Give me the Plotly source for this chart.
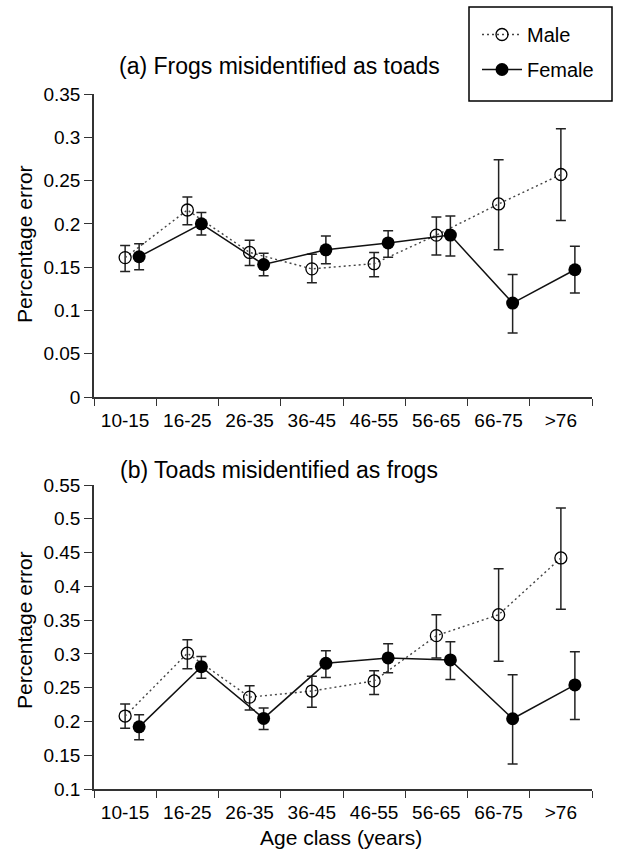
import plotly.graph_objects as go
from plotly.subplots import make_subplots

categories = ["10-15", "16-25", "26-35", "36-45", "46-55", "56-65", "66-75", ">76"]

# (a) Frogs misidentified as toads
a_male = [0.161, 0.216, 0.167, 0.148, 0.154, 0.187, 0.223, 0.257]
a_male_hi = [0.175, 0.231, 0.181, 0.165, 0.167, 0.208, 0.274, 0.310]
a_male_lo = [0.145, 0.199, 0.152, 0.132, 0.139, 0.164, 0.170, 0.204]
a_fem = [0.162, 0.200, 0.153, 0.170, 0.178, 0.187, 0.1085, 0.147]
a_fem_hi = [0.177, 0.213, 0.166, 0.186, 0.192, 0.209, 0.1415, 0.174]
a_fem_lo = [0.147, 0.187, 0.140, 0.154, 0.1615, 0.163, 0.074, 0.120]

# (b) Toads misidentified as frogs
b_male = [0.208, 0.301, 0.236, 0.245, 0.260, 0.327, 0.358, 0.442]
b_male_hi = [0.226, 0.321, 0.253, 0.267, 0.275, 0.358, 0.426, 0.516]
b_male_lo = [0.190, 0.278, 0.217, 0.221, 0.240, 0.294, 0.289, 0.366]
b_fem = [0.192, 0.281, 0.2045, 0.286, 0.294, 0.291, 0.204, 0.254]
b_fem_hi = [0.210, 0.296, 0.220, 0.3045, 0.315, 0.318, 0.269, 0.303]
b_fem_lo = [0.173, 0.264, 0.188, 0.265, 0.272, 0.262, 0.137, 0.203]

a_ticks = [0, 0.05, 0.1, 0.15, 0.2, 0.25, 0.3, 0.35]
b_ticks = [0.1, 0.15, 0.2, 0.25, 0.3, 0.35, 0.4, 0.45, 0.5, 0.55]

FONT = "Liberation Sans, Arial, Helvetica, sans-serif"
W, H = 617, 852
ML, MR, MT, MB = 94, 25, 94, 63
PW, PH = W - ML - MR, H - MT - MB


def px2x(p):
    return (p - ML) / PW


def px2y(p):
    return (H - MB - p) / PH


fig = make_subplots(rows=2, cols=1, shared_xaxes=False, vertical_spacing=0.1)

xm = list(range(len(categories)))
xf = [i + 0.225 for i in xm]


def add_panel(row, male, mhi, mlo, fem, fhi, flo, show):
    fig.add_trace(go.Scatter(
        x=xm, y=male, mode="lines+markers", name="Male", showlegend=show, legendgroup="m",
        line=dict(color="#444444", width=1.4, dash="2px,3px"),
        marker=dict(symbol="circle-open", size=12, color="black", line=dict(width=1.3, color="black")),
        error_y=dict(type="data", symmetric=False,
                     array=[h - m for h, m in zip(mhi, male)],
                     arrayminus=[m - l for m, l in zip(male, mlo)],
                     color="#222222", thickness=1.5, width=5),
    ), row=row, col=1)
    fig.add_trace(go.Scatter(
        x=xf, y=fem, mode="lines+markers", name="Female", showlegend=show, legendgroup="f",
        line=dict(color="#111111", width=1.5),
        marker=dict(symbol="circle", size=13, color="black"),
        error_y=dict(type="data", symmetric=False,
                     array=[h - m for h, m in zip(fhi, fem)],
                     arrayminus=[m - l for m, l in zip(fem, flo)],
                     color="#222222", thickness=1.5, width=5),
    ), row=row, col=1)


add_panel(1, a_male, a_male_hi, a_male_lo, a_fem, a_fem_hi, a_fem_lo, True)
add_panel(2, b_male, b_male_hi, b_male_lo, b_fem, b_fem_hi, b_fem_lo, False)

xaxis_common = dict(
    range=[-0.5, len(categories) - 0.5], tickmode="array", tickvals=xm, ticktext=categories,
    ticks="outside", ticklen=5, tickcolor="rgba(0,0,0,0)",
    minor=dict(tickmode="array", tickvals=[i - 0.5 for i in range(len(categories) + 1)],
               ticks="outside", ticklen=7, tickcolor="#333333", tickwidth=1.3, showgrid=False),
    showline=True, linecolor="#333333", linewidth=1.5, showgrid=False, zeroline=False,
    tickfont=dict(family=FONT, size=19, color="black"),
)
yaxis_common = dict(
    ticks="outside", ticklen=8, tickcolor="#333333", tickwidth=1.3,
    showline=True, linecolor="#333333", linewidth=1.5, showgrid=False, zeroline=False,
    tickfont=dict(family=FONT, size=19, color="black"), tickmode="array",
)

fig.update_xaxes(**xaxis_common, domain=[0, 1], row=1, col=1)
fig.update_xaxes(**xaxis_common, domain=[0, 1], row=2, col=1)
fig.update_yaxes(**yaxis_common, range=[0, 0.35], tickvals=a_ticks,
                 ticktext=[f"{v:g}" for v in a_ticks],
                 domain=[px2y(397), px2y(94)], row=1, col=1)
fig.update_yaxes(**yaxis_common, range=[0.1, 0.55], tickvals=b_ticks,
                 ticktext=[f"{v:g}" for v in b_ticks],
                 domain=[px2y(789), px2y(485)], row=2, col=1)

annotations = [
    dict(text="(a) Frogs misidentified as toads", x=px2x(279), y=px2y(66)),
    dict(text="(b) Toads misidentified as frogs", x=px2x(279), y=px2y(470)),
]
for a in annotations:
    fig.add_annotation(xref="paper", yref="paper", xanchor="center", yanchor="middle",
                       showarrow=False, font=dict(family=FONT, size=23, color="black"), **a)

fig.add_annotation(text="Age class (years)", xref="paper", yref="paper",
                   x=px2x(341), y=px2y(837), xanchor="center", yanchor="middle",
                   showarrow=False, font=dict(family=FONT, size=21, color="black"))
for yc in (244, 630):
    fig.add_annotation(text="Percentage error", xref="paper", yref="paper",
                       x=px2x(24), y=px2y(yc), xanchor="center", yanchor="middle",
                       textangle=-90, showarrow=False,
                       font=dict(family=FONT, size=21, color="black"))

# legend frame
fig.add_shape(type="rect", xref="paper", yref="paper",
              x0=px2x(469), x1=px2x(612), y0=px2y(101), y1=px2y(7),
              line=dict(color="black", width=1.5), fillcolor="rgba(0,0,0,0)")

fig.update_layout(
    width=W, height=H, margin=dict(l=ML, r=MR, t=MT, b=MB),
    paper_bgcolor="white", plot_bgcolor="white",
    legend=dict(x=px2x(477), y=px2y(15), xanchor="left", yanchor="top",
                borderwidth=0, bgcolor="rgba(0,0,0,0)", tracegroupgap=6,
                font=dict(family=FONT, size=20, color="black"),
                itemwidth=40),
)

fig.write_html("out.html", config={"displayModeBar": False},
               post_script="document.body.style.margin='0';")
